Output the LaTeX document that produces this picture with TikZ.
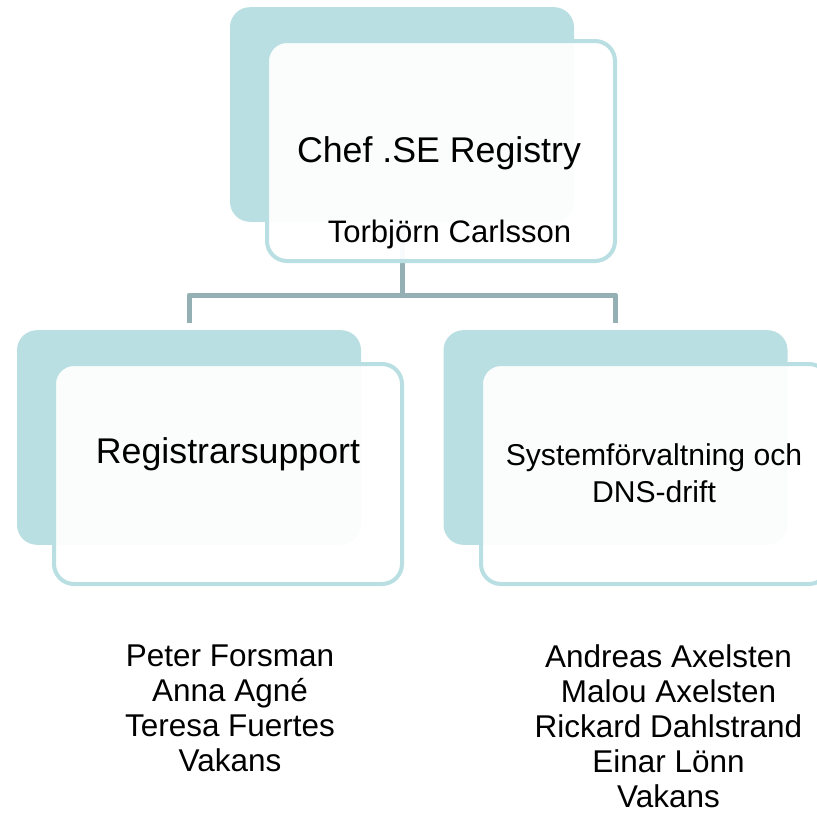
\documentclass[tikz,border=0pt]{standalone}
\usepackage{fontspec}
\setmainfont{Liberation Sans}
\definecolor{backteal}{HTML}{B9DFE2}
\definecolor{connteal}{HTML}{94B0B4}
\begin{document}
\begin{tikzpicture}[x=0.75pt,y=-0.75pt,
  backbox/.style={draw=none, fill=backteal, rounded corners=15pt,
    minimum width=258pt, minimum height=161pt, inner sep=0pt},
  frontbox/.style={draw=backteal, line width=3pt, fill=white, fill opacity=0.95,
    rounded corners=15pt, minimum width=261pt, minimum height=165pt, inner sep=0pt},
  conn/.style={draw=connteal, line width=3.75pt, line join=round},
  title/.style={anchor=base, font=\fontsize{26.8}{30}\selectfont},
  sub/.style={anchor=base, font=\fontsize{23.3}{26}\selectfont},
  names/.style={anchor=north, align=center, font=\fontsize{23.6}{26.25}\selectfont},
]
\useasboundingbox (0,0) rectangle (817,821);

% back boxes
\node[backbox] (tb) at (402,114.5) {};
\node[backbox] (lb) at (189,437.5) {};
\node[backbox] (rb) at (615.5,437.5) {};

% connectors
\coordinate (j) at (402,295);
\draw[conn] (tb.south) -- (j);
\draw[conn, shorten >=5.25pt] (j) -| (lb.north);
\draw[conn, shorten >=5.25pt] (j) -| (rb.north);

% front boxes
\node[frontbox] (tf) at (441,151) {};
\node[frontbox] (lf) at (228,474) {};
\node[frontbox] (rf) at (655,474) {};

% texts
\node[title] (t1) at (439,162) {Chef .SE Registry};
\node[sub] (t2) at (449.5,242) {Torbjörn Carlsson};
\node[title] (l1) at (228,463) {Registrarsupport};
\node[anchor=base, align=center, font=\fontsize{22.6}{27.75}\selectfont] (r1) at (654,502)
  {Systemförvaltning och\\DNS-drift};

\node[names] (ln) at (230,640) {Peter Forsman\\Anna Agné\\Teresa Fuertes\\Vakans};
\node[names] (rn) at (668.5,640) {Andreas Axelsten\\Malou Axelsten\\Rickard Dahlstrand\\Einar Lönn\\Vakans};
\end{tikzpicture}
\end{document}
